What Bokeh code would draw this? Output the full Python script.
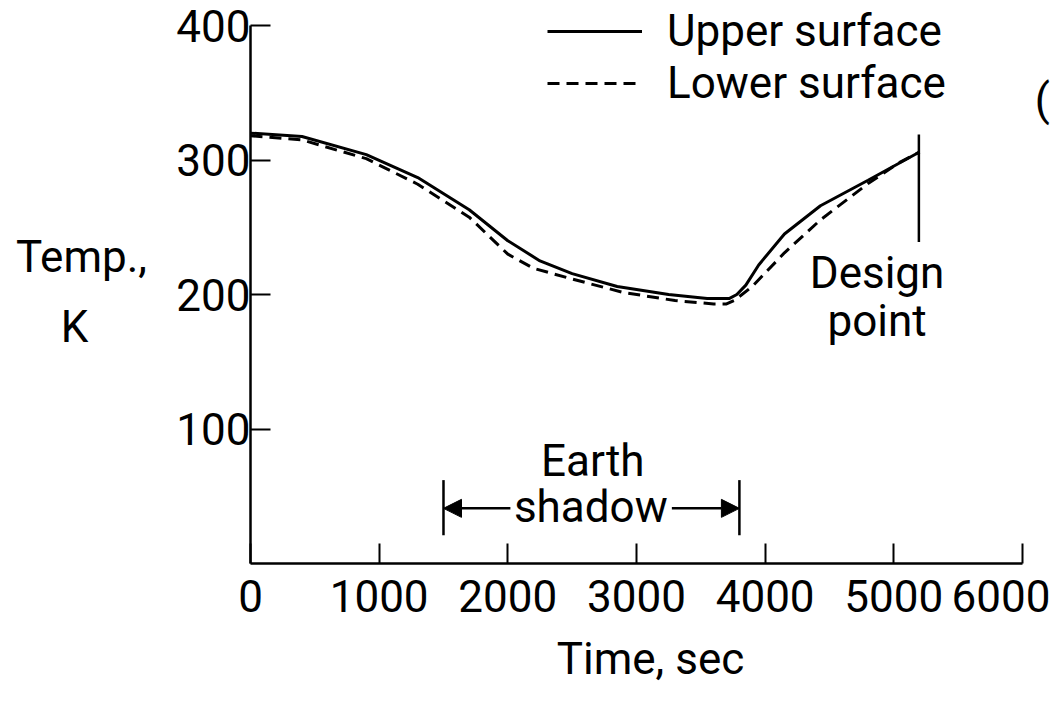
from bokeh.plotting import figure
from bokeh.layouts import row
from bokeh.models import (Legend, LegendItem, Label, Arrow, NormalHead,
                          FixedTicker, Range1d)
from bokeh.core.properties import value
from bokeh.embed import file_html
from bokeh.resources import INLINE

# ---- data ----
time_upper = [0, 400, 900, 1300, 1700, 2000, 2250, 2500, 2850, 3250, 3550,
              3720, 3780, 3850, 3950, 4150, 4430, 4800, 5200]
temp_upper = [320, 317.5, 304, 287, 263, 240, 225, 215.5, 206, 200, 197,
              197, 200, 207, 222, 245, 266, 285, 306]

time_lower = [0, 400, 900, 1300, 1700, 2000, 2200, 2500, 2900, 3300, 3600,
              3700, 3760, 3900, 3970, 4150, 4430, 4800, 5050, 5200]
temp_lower = [318, 315, 301, 282, 257.5, 230, 219.5, 211.5, 201.5, 195.5, 193,
              193, 195.5, 206, 213, 231, 255.5, 282.5, 298.5, 306]

x_ticks = [0, 1000, 2000, 3000, 4000, 5000, 6000]
y_ticks = [100, 200, 300, 400]

design_time = [5195]
design_temp_bottom = [239]
design_temp_top = [319]

shadow_start = 1500
shadow_end = 3800
shadow_bar_bottom = 21
shadow_bar_top = 62
shadow_arrow_temp = 41
shadow_arrow_tails = [2020, 3275]

FONT = "Roboto"
FS = "44px"
H = 700
Y_TOP = 414.9  # frame top lies a little above the 400 K tick

# ---- left strip holding the horizontal y-axis title ----
side = figure(width=165, height=H, output_backend="svg", toolbar_location=None,
              x_range=Range1d(0, 165), y_range=Range1d(0, Y_TOP),
              x_axis_type=None, y_axis_type=None,
              min_border_left=0, min_border_right=0, min_border_top=5,
              min_border_bottom=H - 563)
side.outline_line_color = None
side.grid.visible = False
side.text(x=[81, 74], y=[228, 176], text=["Temp.,", "K"],
          text_font=value(FONT), text_font_size=FS, text_align="center",
          text_baseline="middle", text_color="black")

# ---- main chart ----
p = figure(width=885, height=H, output_backend="svg", toolbar_location=None,
           x_range=Range1d(0, 6218), y_range=Range1d(0, Y_TOP),
           min_border_left=85, min_border_right=0, min_border_top=5,
           min_border_bottom=H - 563)
p.outline_line_color = None
p.grid.visible = False
p.background_fill_color = "white"
p.border_fill_color = "white"

for ax in (p.xaxis[0], p.yaxis[0]):
    ax.axis_line_width = 2.5
    ax.axis_line_color = "black"
    ax.major_tick_in = 20
    ax.major_tick_out = 0
    ax.major_tick_line_width = 2
    ax.major_tick_line_color = "black"
    ax.minor_tick_line_color = None
    ax.major_label_text_font = FONT
    ax.major_label_text_font_size = FS
    ax.major_label_text_color = "black"

p.xaxis.ticker = FixedTicker(ticks=x_ticks)
p.yaxis.ticker = FixedTicker(ticks=y_ticks)
p.xaxis.bounds = (0, 6000)
p.yaxis.bounds = (0, 400)
p.xaxis.major_label_standoff = 16
p.yaxis.major_label_standoff = 0
p.xaxis.axis_label = "Time, sec"
p.xaxis.axis_label_text_font = FONT
p.xaxis.axis_label_text_font_size = FS
p.xaxis.axis_label_text_font_style = "normal"
p.xaxis.axis_label_text_color = "black"
p.xaxis.axis_label_standoff = 18

# curves
r_up = p.line(time_upper, temp_upper, line_width=3, color="black")
r_lo = p.line(time_lower, temp_lower, line_width=3, color="black",
              line_dash="12 7")

legend = Legend(items=[LegendItem(label="Upper surface", renderers=[r_up]),
                       LegendItem(label="Lower surface", renderers=[r_lo])],
                location=(297, 454), glyph_width=95, glyph_height=40,
                label_height=40, label_standoff=25, padding=0, margin=0,
                spacing=0, border_line_color=None, background_fill_alpha=0,
                label_text_font=FONT, label_text_font_size=FS,
                label_text_color="black")
p.add_layout(legend)

# design point marker
p.segment(x0=design_time, y0=design_temp_bottom, x1=design_time,
          y1=design_temp_top, line_width=2.5, color="black")
p.text(x=[4870, 4870], y=[216, 180], text=["Design", "point"],
       text_font=value(FONT), text_font_size=FS, text_align="center",
       text_baseline="middle", text_color="black")

# earth shadow
p.segment(x0=[shadow_start, shadow_end], y0=[shadow_bar_bottom] * 2,
          x1=[shadow_start, shadow_end], y1=[shadow_bar_top] * 2,
          line_width=2.5, color="black")
for tail, head in zip(shadow_arrow_tails, [shadow_start, shadow_end]):
    p.add_layout(Arrow(end=NormalHead(size=18, fill_color="black",
                                      line_color="black", line_width=1),
                       x_start=tail, y_start=shadow_arrow_temp,
                       x_end=head, y_end=shadow_arrow_temp,
                       line_width=2.5, line_color="black"))
p.text(x=[2660, 2645], y=[76, 42], text=["Earth", "shadow"],
       text_font=value(FONT), text_font_size=FS, text_align="center",
       text_baseline="middle", text_color="black")

# fragment of a neighbouring label at the right edge
p.add_layout(Label(x=6095, y=345, text="(", text_font=FONT,
                   text_font_size=FS, text_align="left",
                   text_baseline="middle", text_color="black"))

layout = row(side, p)
open("out.html", "w").write(file_html(layout, INLINE))
